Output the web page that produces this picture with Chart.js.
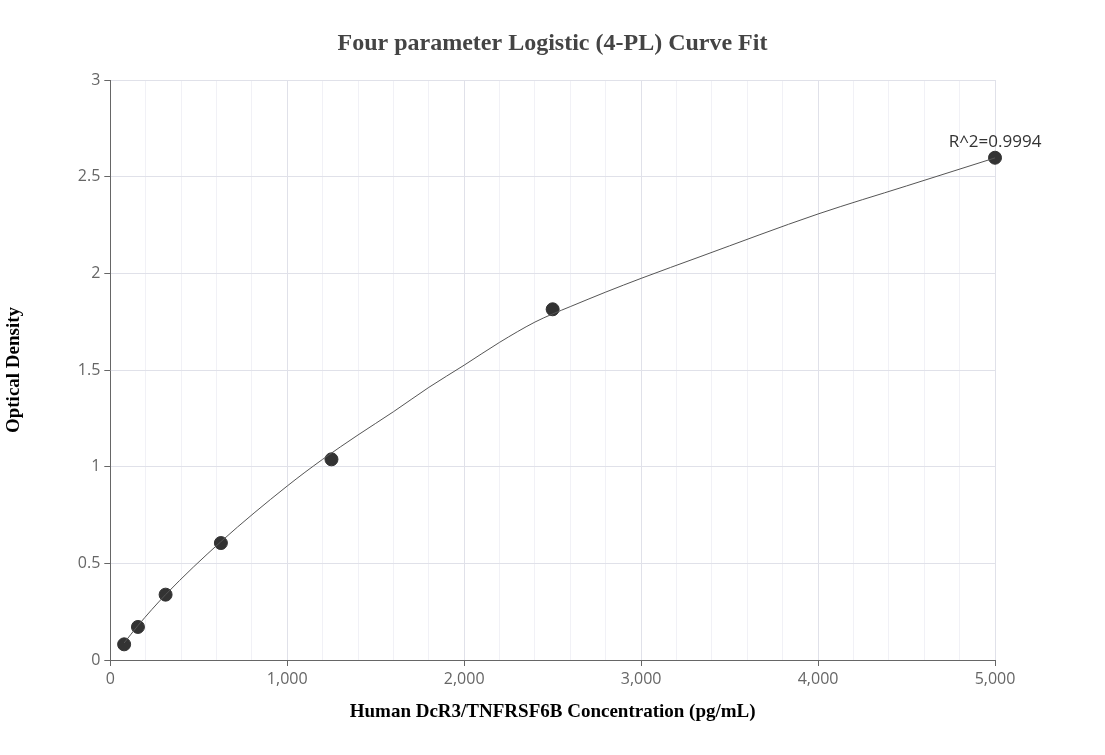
<!DOCTYPE html>
<html>
<head>
<meta charset="utf-8">
<script src="https://cdn.jsdelivr.net/npm/chart.js@4"></script>
<style>
  html, body { margin: 0; padding: 0; background: #fff; }
  #wrap { width: 1105px; height: 755px; }
</style>
</head>
<body>
<div id="wrap"><canvas id="fitChart" width="1105" height="755"></canvas></div>
<script>
// standard concentrations (pg/mL) and measured OD
const concentrations = [78.125, 156.25, 312.5, 625, 1250, 2500, 5000];
const odValues = [0.081, 0.171, 0.338, 0.605, 1.038, 1.814, 2.598];

// fitted curve
const curveX = [78.125, 156.25, 312.5, 625, 1000, 1200, 1400, 1600, 1800, 2000, 2200, 2400, 2500, 2600, 2800, 3000, 3333, 4000, 4500, 5000];
const curveY = [0.088, 0.178, 0.338, 0.612, 0.90, 1.038, 1.164, 1.284, 1.41, 1.525, 1.643, 1.748, 1.79, 1.828, 1.903, 1.974, 2.086, 2.307, 2.452, 2.597];

const xTicks = [0, 1000, 2000, 3000, 4000, 5000];
const yTicks = [0, 0.5, 1, 1.5, 2, 2.5, 3];
const chartTitle = "Four parameter Logistic (4-PL) Curve Fit";
const r2Label = "R^2=0.9994";

const tickFont = { family: "'Open Sans', sans-serif", size: 16 };
const serifBold = "'Liberation Serif', 'Times New Roman', serif";

// title centred on the whole canvas + R^2 text above the last standard
const textPlugin = {
  id: "textPlugin",
  afterDraw(chart) {
    const { ctx, scales } = chart;
    ctx.save();
    ctx.font = "bold 24px " + serifBold;
    ctx.fillStyle = "#444";
    ctx.textAlign = "center";
    ctx.textBaseline = "middle";
    ctx.fillText(chartTitle, chart.width / 2, 44);

    const px = scales.x.getPixelForValue(concentrations[concentrations.length - 1]);
    const py = scales.y.getPixelForValue(odValues[odValues.length - 1]);
    ctx.font = "17px 'Open Sans', sans-serif";
    ctx.fillStyle = "#333";
    ctx.textBaseline = "bottom";
    ctx.fillText(r2Label, px, py - 7);
    ctx.restore();
  },
};

const config = {
  type: "scatter",
  data: {
    datasets: [
      {
        label: "Fit",
        type: "line",
        data: curveX.map((x, i) => ({ x: x, y: curveY[i] })),
        borderColor: "#555",
        borderWidth: 1,
        pointRadius: 0,
        cubicInterpolationMode: "monotone",
        fill: false,
      },
      {
        label: "Standards",
        data: concentrations.map((x, i) => ({ x: x, y: odValues[i] })),
        backgroundColor: "#333",
        borderColor: "#333",
        pointRadius: 6.5,
        pointHoverRadius: 6.5,
        clip: false,
      },
    ],
  },
  options: {
    responsive: false,
    animation: false,
    layout: { padding: { top: 80, right: 110, bottom: 32, left: 3 } },
    plugins: {
      legend: { display: false },
      tooltip: { enabled: false },
      title: { display: false },
    },
    scales: {
      x: {
        type: "linear",
        min: 0,
        max: 5000,
        afterBuildTicks: (axis) => {
          const t = [];
          for (let v = 0; v <= 5000; v += 200) t.push({ value: v });
          axis.ticks = t;
        },
        ticks: {
          autoSkip: false,
          maxRotation: 0,
          color: "#666",
          font: tickFont,
          padding: 4,
          callback: (v) => (xTicks.includes(v) ? v.toLocaleString("en-US") : ""),
        },
        grid: {
          color: (c) => (c.tick && c.tick.value % 1000 === 0 ? "#e0e1e9" : "#f1f1f6"),
          tickColor: (c) => (c.tick && c.tick.value % 1000 === 0 ? "#666" : "rgba(0,0,0,0)"),
          tickLength: 6,
          lineWidth: 1,
        },
        border: { color: "#666", width: 1 },
        title: {
          display: true,
          text: "Human DcR3/TNFRSF6B Concentration (pg/mL)",
          color: "#000",
          font: { family: serifBold, size: 19, weight: "bold" },
          padding: { top: 7, bottom: 0 },
        },
      },
      y: {
        type: "linear",
        min: 0,
        max: 3,
        afterBuildTicks: (axis) => {
          axis.ticks = yTicks.map((v) => ({ value: v }));
        },
        ticks: {
          color: "#666",
          font: tickFont,
          padding: 4,
          callback: (v) => String(v),
        },
        grid: {
          color: "#e0e1e9",
          tickColor: "#666",
          tickLength: 6,
        },
        border: { color: "#666", width: 1 },
        title: {
          display: true,
          text: "Optical Density",
          color: "#000",
          font: { family: serifBold, size: 19, weight: "bold" },
          padding: { top: 0, bottom: 48 },
        },
      },
    },
  },
  plugins: [textPlugin],
};

new Chart(document.getElementById("fitChart"), config);
</script>
</body>
</html>
